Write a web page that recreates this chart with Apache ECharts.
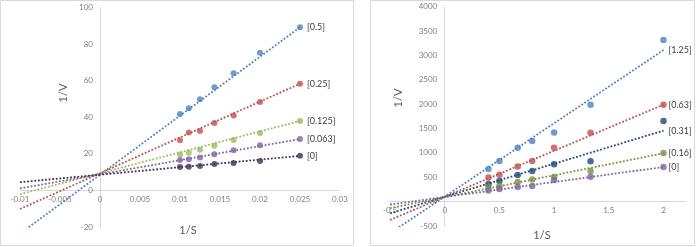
<!DOCTYPE html>
<html>
<head>
<meta charset="utf-8">
<script src="https://cdn.jsdelivr.net/npm/echarts@6/dist/echarts.min.js"></script>
<style>
html,body{margin:0;padding:0;background:#fff;}
#c{width:696px;height:247px;}
</style>
</head>
<body>
<div id="c"></div>
<script>
// ---- Left chart data (1/S vs 1/V) ----
var xLeft = [0.01, 0.0111, 0.0125, 0.0143, 0.0167, 0.02, 0.025];
var leftNames = ['[0.5]', '[0.25]', '[0.125]', '[0.063]', '[0]'];
var leftBlue   = [41.8, 44.9, 49.9, 56.4, 64.1, 75.2, 89.2];
var leftRed    = [27.4, 31.6, 32.5, 36.8, 41.0, 48.3, 58.3];
var leftGreen  = [19.7, 20.6, 22.2, 24.4, 27.6, 31.4, 38.0];
var leftPurple = [16.6, 17.0, 18.0, 19.8, 21.9, 24.7, 28.1];
var leftNavy   = [12.8, 13.0, 13.4, 14.4, 15.0, 16.1, 18.9];
var leftTrendIntercept = [8.6, 9.4, 9.4, 8.8, 8.6];
var leftTrendSlope     = [3224, 1957, 1143, 771, 411];
var leftTrendFrom = -0.01, leftTrendTo = 0.025;

// ---- Right chart data ----
var xRight = [0.4, 0.5, 0.667, 0.8, 1, 1.333, 2];
var rightNames = ['[1.25]', '[0.63]', '[0.31]', '[0.16]', '[0]'];
var rightBlue   = [668, 835, 1105, 1245, 1420, 1990, 3318];
var rightRed    = [493, 554, 720, 832, 1105, 1416, 1990];
var rightNavy   = [360, 425, 548, 627, 767, 829, 1656];
var rightGreen  = [304, 321, 405, 455, 505, 630, 1000];
var rightPurple = [230, 258, 300, 322, 445, 513, 712];
var rightTrendIntercept = [102, 98, 99, 91, 95];
var rightTrendSlope     = [1505, 946, 679, 451, 308];
var rightTrendFrom = -0.5, rightTrendTo = 2;

// axis ranges / tick steps
var leftX = [-0.01, 0.03, 0.005], leftY = [-20, 100, 20];
var rightX = [-0.5, 2.2, 0.5], rightY = [-500, 4000, 500];

var leftColors  = ['#4f81bd', '#c0504d', '#9bbb59', '#8064a2', '#3f3151'];
var rightColors = ['#4f81bd', '#c0504d', '#1f497d', '#77933c', '#8064a2'];

var FONT = 'Lato, "Liberation Sans", sans-serif';

var grids = [
  { left: 20, top: 7.5, width: 320, height: 219.5 },
  { left: 390, top: 6.7, width: 295.4, height: 219.3 }
];

function pairs(xs, ys){ return xs.map(function(x,i){ return [x, ys[i]]; }); }

var series = [];
function addGroup(idx, xs, ysList, names, colors, b, m, from, to, symSize, labDist){
  ysList.forEach(function(ys, i){
    series.push({
      type: 'line', xAxisIndex: idx, yAxisIndex: idx,
      data: [[from, b[i] + m[i]*from], [to, b[i] + m[i]*to]],
      showSymbol: false, symbol: 'none', silent: true,
      lineStyle: { color: colors[i], width: 1.8, type: [1.8, 1.8] },
      endLabel: { show: true, formatter: names[i], distance: labDist,
                  color: '#404040', fontSize: 9, fontFamily: FONT },
      z: 2
    });
    series.push({
      type: 'scatter', xAxisIndex: idx, yAxisIndex: idx,
      data: pairs(xs, ys), symbol: 'circle', symbolSize: symSize,
      itemStyle: { color: colors[i] }, z: 3
    });
  });
}
addGroup(0, xLeft, [leftBlue, leftRed, leftGreen, leftPurple, leftNavy], leftNames, leftColors,
         leftTrendIntercept, leftTrendSlope, leftTrendFrom, leftTrendTo, 6, 7);
addGroup(1, xRight, [rightBlue, rightRed, rightNavy, rightGreen, rightPurple], rightNames, rightColors,
         rightTrendIntercept, rightTrendSlope, rightTrendFrom, rightTrendTo, 6.5, 5);

function fmt(v){ return String(v); }

// x axis placed at y = 0 (offset upward from grid bottom), y axis at x = 0
function xAx(idx, r, yr, margin, showMax){
  var off = -grids[idx].height * (0 - yr[0]) / (yr[1] - yr[0]);
  return { type: 'value', gridIndex: idx, min: r[0], max: r[1], interval: r[2],
    position: 'bottom', offset: off,
    axisLine: { onZero: false, lineStyle: { color: '#d9d9d9', width: 1 } },
    axisTick: { show: false }, splitLine: { show: false },
    axisLabel: { fontSize: 8, color: '#7f7f7f', margin: margin, fontFamily: FONT,
                 showMaxLabel: showMax, showMinLabel: true, hideOverlap: false, formatter: fmt }
  };
}
function yAx(idx, r, xr, margin){
  var off = -grids[idx].width * (0 - xr[0]) / (xr[1] - xr[0]);
  return { type: 'value', gridIndex: idx, min: r[0], max: r[1], interval: r[2],
    position: 'left', offset: off,
    axisLine: { show: true, onZero: false, lineStyle: { color: '#d9d9d9', width: 1 } },
    axisTick: { show: false }, splitLine: { show: false },
    axisLabel: { fontSize: 8, color: '#7f7f7f', margin: margin, fontFamily: FONT,
                 showMaxLabel: true, showMinLabel: true, hideOverlap: false, formatter: fmt }
  };
}

function title(text, x, y, rot){
  return { type: 'text', x: x, y: y, rotation: rot || 0, z: 10,
    style: { text: text, fontSize: 11, fill: '#595959', fontFamily: FONT,
             align: 'center', verticalAlign: 'middle', textAlign: 'center', textVerticalAlign: 'middle' } };
}

var chart = echarts.init(document.getElementById('c'), null, { renderer: 'canvas' });
chart.setOption({
  animation: false,
  backgroundColor: '#fff',
  grid: grids.map(function(g){ return Object.assign({ containLabel: false, outerBoundsMode: 'none' }, g); }),
  xAxis: [ xAx(0, leftX, leftY, 5, true), xAx(1, rightX, rightY, 5, false) ],
  yAxis: [ yAx(0, leftY, leftX, 7), yAx(1, rightY, rightX, 7.5) ],
  series: series,
  graphic: [
    { type: 'rect', shape: { x: 0.5, y: 0.5, width: 353, height: 245 },
      style: { fill: 'none', stroke: '#d9d9d9', lineWidth: 1 }, silent: true, z: -1 },
    { type: 'rect', shape: { x: 370.5, y: 0.5, width: 324, height: 245 },
      style: { fill: 'none', stroke: '#d9d9d9', lineWidth: 1 }, silent: true, z: -1 },
    title('1/V', 63, 93, Math.PI/2),
    title('1/V', 398, 98, Math.PI/2),
    title('1/S', 188, 230, 0),
    title('1/S', 542, 235, 0)
  ]
});
</script>
</body>
</html>
